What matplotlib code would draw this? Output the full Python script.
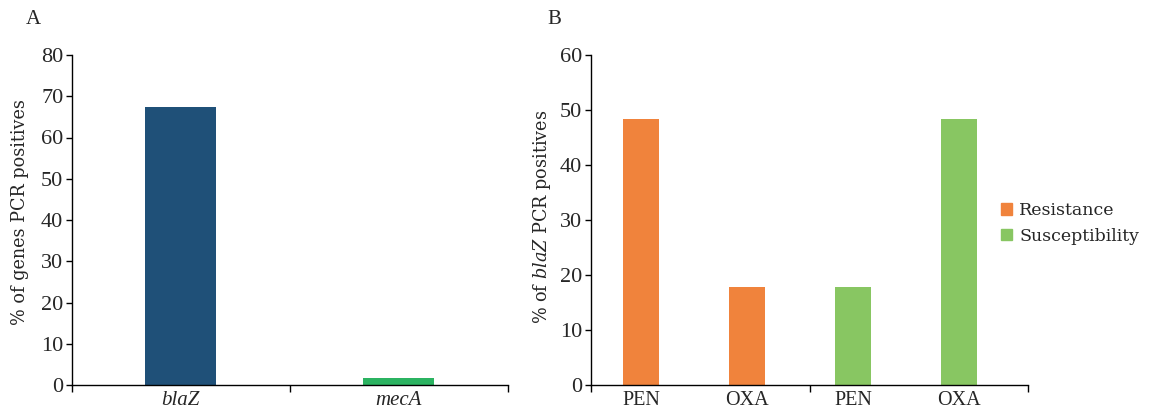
import matplotlib
matplotlib.use('Agg')
import matplotlib.pyplot as plt
from matplotlib.patches import Patch

# panel A data
genes = ['blaZ', 'mecA']
gene_pct = [67.4, 1.8]
gene_colors = ['#1F5078', '#2BB361']

# panel B data
drugs = ['PEN', 'OXA', 'PEN', 'OXA']
blaz_pct = [48.3, 17.8, 17.8, 48.3]
groups = ['Resistance', 'Resistance', 'Susceptibility', 'Susceptibility']
group_colors = {'Resistance': '#F0833C', 'Susceptibility': '#88C662'}

plt.rcParams['mathtext.fontset'] = 'dejavuserif'
txt = '#262626'
tick_font = 'Liberation Serif'

fig = plt.figure(figsize=(11.54, 4.12), dpi=100)
axA = fig.add_axes([71.7/1154, 1-385/412, (508-71.7)/1154, 330/412])
axB = fig.add_axes([590.7/1154, 1-385/412, (1028-590.7)/1154, 330/412])

for ax in (axA, axB):
    for s in ('top', 'right'):
        ax.spines[s].set_visible(False)
    for s in ('left', 'bottom'):
        ax.spines[s].set_linewidth(1.0)
        ax.spines[s].set_color('black')
    ax.tick_params(axis='y', direction='out', length=4, width=1, colors='black',
                   labelcolor=txt, labelsize=16, pad=2)
    ax.tick_params(axis='x', which='major', length=0, labelcolor=txt, labelsize=14, pad=4)
    ax.tick_params(axis='x', which='minor', direction='out', length=5, width=1, colors='black')

# A
xa = list(range(len(genes)))
axA.bar(xa, gene_pct, width=0.326, color=gene_colors)
axA.set_xlim(-0.5, 1.5)
axA.set_ylim(0, 80)
axA.set_yticks(range(0, 81, 10))
axA.set_xticks(xa)
axA.set_xticklabels(genes, fontstyle='italic', family=tick_font, fontsize=15)
axA.set_xticks([-0.5, 0.5, 1.5], minor=True)
for lab in axA.get_yticklabels():
    lab.set_family(tick_font)

# B
xb = list(range(len(drugs)))
axB.bar(xb, blaz_pct, width=0.34, color=[group_colors[g] for g in groups])
axB.set_xlim(-0.475, 3.65)
axB.set_ylim(0, 60)
axB.set_yticks(range(0, 61, 10))
axB.set_xticks(xb)
axB.set_xticklabels(drugs, family=tick_font, fontsize=14.5)
axB.set_xticks([-0.475, 1.595, 3.65], minor=True)
for lab in axB.get_yticklabels():
    lab.set_family(tick_font)

fig.text(20/1154, 1-212/412, '% of genes PCR positives', rotation=90, ha='center', va='center',
         family='DejaVu Serif', fontsize=12.7, color=txt)
fig.text(542/1154, 1-217/412, r'% of $\it{blaZ}$ PCR positives', rotation=90, ha='center', va='center',
         family='DejaVu Serif', fontsize=12.7, color=txt)

fig.text(33/1154, 1-20/412, 'A', ha='center', va='center', family='Liberation Serif', fontsize=15, color=txt)
fig.text(554/1154, 1-20/412, 'B', ha='center', va='center', family='Liberation Serif', fontsize=15, color=txt)

handles = [Patch(color=group_colors[g], label=g) for g in ['Resistance', 'Susceptibility']]
leg = fig.legend(handles=handles, loc='upper left', bbox_to_anchor=(1001/1154, 1-202/412),
                 frameon=False, borderpad=0, borderaxespad=0, handlelength=0.65, handleheight=0.65,
                 handletextpad=0.4, labelspacing=0.5, prop={'family': 'DejaVu Serif', 'size': 12.5})
for t in leg.get_texts():
    t.set_color(txt)

plt.savefig('out.png', dpi=100)
